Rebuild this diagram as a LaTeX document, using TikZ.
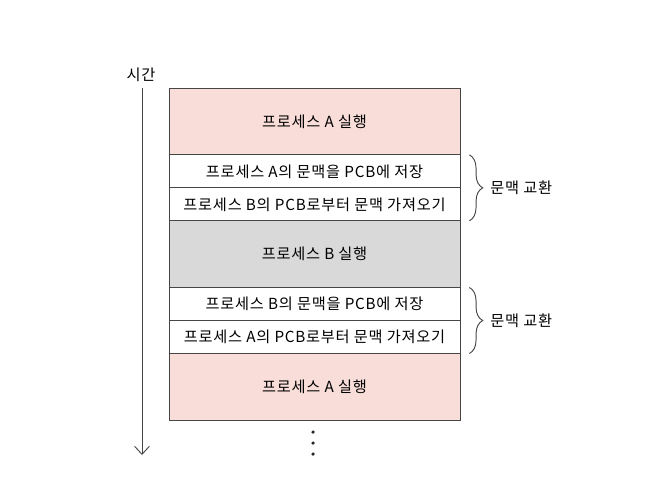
\documentclass[tikz,border=0pt]{standalone}
\usepackage{fontspec}
\setmainfont[LetterSpace=5]{Noto Sans CJK KR}
\usetikzlibrary{positioning,arrows.meta,decorations.pathreplacing}

\definecolor{procA}{RGB}{249,221,217}
\definecolor{procB}{RGB}{217,217,217}
\definecolor{edge}{RGB}{70,70,70}

\begin{document}
\begin{tikzpicture}[
  x=0.03cm, y=-0.03cm,
  node distance=0pt,
  row/.style={draw=edge, line width=0.8pt, outer sep=0pt, inner sep=0pt,
              minimum width=8.73cm, font=\fontsize{13}{15}\selectfont},
  run/.style={row, minimum height=2.0cm},
  ctx/.style={row, fill=white, minimum height=0.99cm},
  brc/.style={decorate, decoration={brace, amplitude=0.4cm}, line width=0.8pt, draw=edge},
  arr/.style={-{Straight Barb[length=2.4mm, width=4.4mm]}, line width=0.8pt, draw=edge},
  lbl/.style={font=\fontsize{13}{15}\selectfont}
]
\useasboundingbox (0,0) rectangle (648,502);

\node[run, fill=procA] (runA1) at (314.5,121.5) {프로세스 A 실행};
\node[ctx, below=of runA1] (saveA) {프로세스 A의 문맥을 PCB에 저장};
\node[ctx, below=of saveA] (loadB) {프로세스 B의 PCB로부터 문맥 가져오기};
\node[run, fill=procB, below=of loadB] (runB) {프로세스 B 실행};
\node[ctx, below=of runB] (saveB) {프로세스 B의 문맥을 PCB에 저장};
\node[ctx, below=of saveB] (loadA) {프로세스 A의 PCB로부터 문맥 가져오기};
\node[run, fill=procA, below=of loadA] (runA2) {프로세스 A 실행};

% time axis
\node[lbl] (time) at (141,75) {시간};
\coordinate (tend) at (142,455);
\draw[arr] (tend |- runA1.north) -- (tend);

% context switch braces
\draw[brc] ([xshift=8]saveA.north east) -- ([xshift=8]loadB.south east)
  node[lbl, midway, right=0.5cm] (swap1) {문맥 교환};
\draw[brc] ([xshift=8]saveB.north east) -- ([xshift=8]loadA.south east)
  node[lbl, midway, right=0.5cm] (swap2) {문맥 교환};

% more to come
\foreach \y in {432,443,454}
  \fill[black!85] (313,\y) circle (1.5pt);
\end{tikzpicture}
\end{document}
